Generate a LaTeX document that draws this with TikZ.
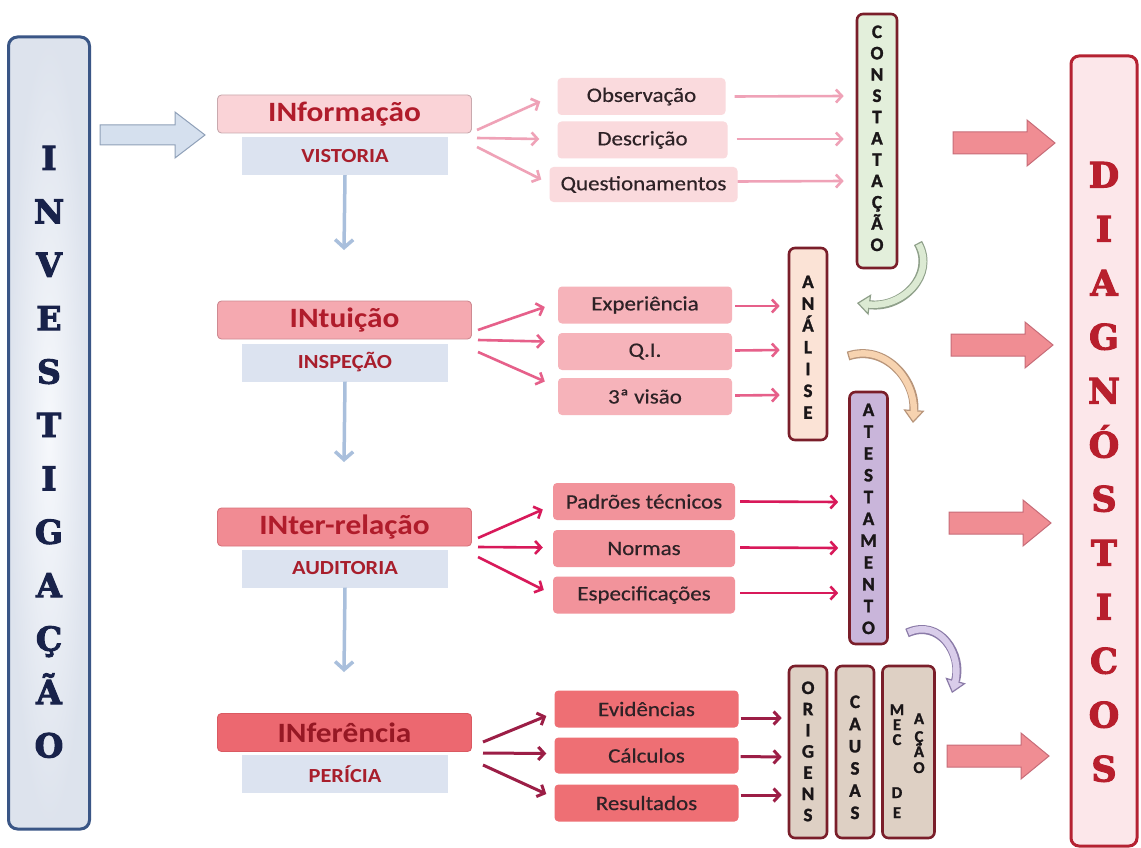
\documentclass[tikz,border=0pt]{standalone}
\usepackage{fontspec}
\setmainfont{Carlito}[FakeStretch=1.12]
\newfontfamily\slab{DejaVu Serif}[BoldFeatures={FakeBold=3}]
\newfontfamily\vfont{Carlito}[BoldFeatures={FakeBold=1.5}]
\newfontfamily\midfont{Carlito}[FakeStretch=1.12,FakeBold=0.5]
\usetikzlibrary{arrows.meta,calc}
\definecolor{invfill}{HTML}{E9EEF7}
\definecolor{invdraw}{HTML}{3A5686}
\definecolor{invtext}{HTML}{18224A}
\definecolor{bafill}{HTML}{D5E0EE}
\definecolor{badraw}{HTML}{8FA0B8}
\definecolor{h1}{HTML}{FAD3D7}
\definecolor{h2}{HTML}{F5A9B0}
\definecolor{h3}{HTML}{F18B93}
\definecolor{h4}{HTML}{EC6870}
\definecolor{hd1}{HTML}{C9A9AE}
\definecolor{hd2}{HTML}{CF8A92}
\definecolor{hd3}{HTML}{D8737B}
\definecolor{hd4}{HTML}{DA5A62}
\definecolor{hred}{HTML}{B01C2B}
\definecolor{subfill}{HTML}{DCE3F0}
\definecolor{subred}{HTML}{A81E2C}
\definecolor{downblue}{HTML}{A9BFDC}
\definecolor{m1}{HTML}{FADADD}
\definecolor{m2}{HTML}{F6B3BA}
\definecolor{m3}{HTML}{F2939B}
\definecolor{m4}{HTML}{EE6F74}
\definecolor{a1}{HTML}{EFA2B7}
\definecolor{a2}{HTML}{E6608A}
\definecolor{a3}{HTML}{D8195A}
\definecolor{a4}{HTML}{9C1E46}
\definecolor{midtext}{HTML}{2E2226}
\definecolor{vborder}{HTML}{7A1E2A}
\definecolor{vgreen}{HTML}{E3EFDB}
\definecolor{vpeach}{HTML}{FBE3D6}
\definecolor{vlav}{HTML}{C9B5DA}
\definecolor{vtaupe}{HTML}{DED0C4}
\definecolor{vtext}{HTML}{1A1618}
\definecolor{dfill}{HTML}{FCE7EA}
\definecolor{ddraw}{HTML}{B52232}
\definecolor{dtext}{HTML}{B81F2D}
\definecolor{pafill}{HTML}{F08D93}
\definecolor{padraw}{HTML}{C76C78}
\definecolor{cgfill}{HTML}{DCEAD3}
\definecolor{cgdraw}{HTML}{8FA08A}
\definecolor{cofill}{HTML}{F7D3B0}
\definecolor{codraw}{HTML}{B8957A}
\definecolor{cpfill}{HTML}{D9CDEA}
\definecolor{cpdraw}{HTML}{8B7BA8}
\begin{document}
\begin{tikzpicture}[x=1pt,y=-1pt,
  headbox/.style={rounded corners=4pt, minimum width=254pt, minimum height=38pt, inner sep=0pt,
     line width=0.9pt, font=\fontsize{28}{30}\selectfont\bfseries, text=hred},
  subbox/.style={minimum width=206pt, minimum height=38pt, inner sep=0pt, fill=subfill,
     font=\fontsize{20}{22}\selectfont\bfseries, text=subred},
  midbox/.style={rounded corners=4pt, minimum height=37pt, inner sep=0pt,
     font=\midfont\fontsize{20.5}{22}\selectfont, text=midtext},
  vbox/.style={draw=vborder, line width=2.6pt, rounded corners=6pt, inner sep=0pt, minimum width=38pt},
  vl/.style={font=\vfont\bfseries\fontsize{19}{19}\selectfont, text=vtext, anchor=base, inner sep=0pt},
  vls/.style={font=\vfont\bfseries\fontsize{16.5}{17}\selectfont, text=vtext, anchor=base, inner sep=0pt},
  bigl/.style={font=\slab\bfseries\fontsize{33}{33}\selectfont, anchor=base, inner sep=0pt},
  downarr/.style={draw=downblue, line width=3.5pt, -{Straight Barb[length=8pt,width=18pt]}},
  fan/.style={line width=2.6pt, -{Straight Barb[length=6pt,width=13pt]}},
  bigarrow/.pic={\path[pic actions] (0,-11) -- (74,-11) -- (74,-23) -- (102,0) -- (74,23) -- (74,11) -- (0,11) -- cycle;}
]
\useasboundingbox (0,0) rectangle (1141,848);
\fill[white] (0,0) rectangle (1141,848);

% ---------- INVESTIGACAO ----------
\node[draw=invdraw, line width=3pt, inner color=white!60!invfill, outer color=invfill!80!invdraw!60!white, rounded corners=9pt, minimum width=81pt, minimum height=792pt, inner sep=0pt] (inv) at (49,433) {};
\foreach \l [count=\i from 0] in {I,N,V,E,S,T,I,G,A,Ç,Ã,O}
  \node[bigl, text=invtext, name=invl\i] at (49, 158+\i*53.4+12) {\l};

% blue block arrow
\path[fill=bafill, draw=badraw, line width=1pt] (100,125) -- (175,125) -- (175,112) -- (205,135) -- (175,158) -- (175,145) -- (100,145) -- cycle;

% ---------- left column ----------
\node[headbox, fill=h1, draw=hd1] (info) at (344.5,114) {INformação};
\node[subbox] (vist) at (345,156) {VISTORIA};
\node[headbox, fill=h2, draw=hd2] (intu) at (344.5,320) {INtuição};
\node[subbox] (insp) at (345,362.5) {INSPEÇÃO};
\node[headbox, fill=h3, draw=hd3] (inter) at (344.5,527) {INter-relação};
\node[subbox] (audi) at (345,568.5) {AUDITORIA};
\node[headbox, fill=h4, draw=hd4, text=hred!85!black] (infe) at (344.5,732.5) {INferência};
\node[subbox] (peri) at (345,774) {PERÍCIA};

\coordinate (d1) at (344,250);
\coordinate (d2) at (344,462);
\coordinate (d3) at (344,672);
\draw[downarr] (vist.south) -- (d1);
\draw[downarr] (insp.south) -- (d2);
\draw[downarr] (audi.south) -- (d3);

% ---------- middle boxes ----------
\node[midbox, fill=m1, minimum width=168pt] (obs) at (641.5,96.5) {Observação};
\node[midbox, fill=m1, minimum width=170pt] (desc) at (642.5,140) {Descrição};
\node[midbox, fill=m1, minimum width=188pt, minimum height=35pt] (ques) at (643.5,184.5) {Questionamentos};

\node[midbox, fill=m2, minimum width=174pt] (expe) at (645,305) {Experiência};
\node[midbox, fill=m2, minimum width=174pt] (qi) at (645,351.5) {Q.I.};
\node[midbox, fill=m2, minimum width=174pt] (visao) at (645,396.5) {3ª visão};

\node[midbox, fill=m3, minimum width=182pt] (padr) at (644,501.5) {Padrões técnicos};
\node[midbox, fill=m3, minimum width=182pt] (norm) at (644,548.5) {Normas};
\node[midbox, fill=m3, minimum width=182pt] (espe) at (644,595) {Especificações};

\node[midbox, fill=m4, minimum width=184pt] (evid) at (646.5,709) {Evidências};
\node[midbox, fill=m4, minimum width=184pt, minimum height=36pt] (calc) at (646.5,755.5) {Cálculos};
\node[midbox, fill=m4, minimum width=184pt] (resu) at (646.5,803) {Resultados};

% ---------- vertical boxes ----------
\node[vbox, fill=vgreen, minimum width=40pt, minimum height=254pt] (cons) at (877,141) {};
\foreach \l [count=\i from 0] in {C,O,N,S,T,A,T,A,Ç,Ã,O}
  \node[vl, name=consl\i] at (877, 32+\i*21.3+6) {\l};

\node[vbox, fill=vpeach, minimum height=192pt] (anal) at (808,344) {};
\foreach \l [count=\i from 0] in {A,N,Á,L,I,S,E}
  \node[vl, name=anall\i] at (808, 282+\i*21.8+6) {\l};

\node[vbox, fill=vlav, minimum height=252pt] (ates) at (868.5,518) {};
\foreach \l [count=\i from 0] in {A,T,E,S,T,A,M,E,N,T,O}
  \node[vl, name=atesl\i] at (868.5, 410+\i*21.8+6) {\l};

\node[vbox, fill=vtaupe, minimum height=172pt] (orig) at (808,752) {};
\foreach \l [count=\i from 0] in {O,R,I,G,E,N,S}
  \node[vl, name=origl\i] at (808, 688+\i*21.2+6) {\l};

\node[vbox, fill=vtaupe, minimum height=172pt] (caus) at (855,752) {};
\foreach \l [count=\i from 0] in {C,A,U,S,A,S}
  \node[vl, name=causl\i] at (855, 702+\i*22.2+6) {\l};

\node[vbox, fill=vtaupe, minimum width=52pt, minimum height=172pt] (mec) at (908.5,752) {};
\node[vls, name=mec1] at (897,715) {M};
\node[vls, name=mec2] at (897,730) {E};
\node[vls, name=mec3] at (897,745) {C};
\node[vls, name=mec4] at (897,798) {D};
\node[vls, name=mec5] at (897,818) {E};
\node[vls, name=aca1] at (919,724) {A};
\node[vls, name=aca2] at (919,742) {Ç};
\node[vls, name=aca3] at (919,757) {Ã};
\node[vls, name=aca4] at (919,773) {O};

% ---------- fan arrows ----------
\coordinate (f1a) at (477,130); \coordinate (f1b) at (477,138); \coordinate (f1c) at (477,147);
\draw[fan, a1] (f1a) -- ($(obs.west)+(-17,5)$);
\draw[fan, a1] (f1b) -- ($(desc.west)+(-18,-1)$);
\draw[fan, a1] (f1c) -- ($(ques.west)+(-8,-5)$);
\draw[fan, a1] ($(obs.east)+(9,0)$) -- ($(cons.west)+(-12,-45)$);
\draw[fan, a1] ($(desc.east)+(9,-1)$) -- ($(cons.west)+(-12,-2)$);
\draw[fan, a1] ($(ques.east)+(0,-3)$) -- ($(cons.west)+(-12,40)$);

\coordinate (f2a) at (478,330); \coordinate (f2b) at (478,340); \coordinate (f2c) at (478,352);
\draw[fan, a2] (f2a) -- ($(expe.west)+(-13,2)$);
\draw[fan, a2] (f2b) -- ($(qi.west)+(-13,-10)$);
\draw[fan, a2] (f2c) -- ($(visao.west)+(-13,-15)$);
\draw[fan, a2] ($(expe.east)+(3,1)$) -- ($(anal.west)+(-8,-38)$);
\draw[fan, a2] ($(qi.east)+(3,-1)$) -- ($(anal.west)+(-8,6)$);
\draw[fan, a2] ($(visao.east)+(3,-1)$) -- ($(anal.west)+(-8,51)$);

\coordinate (f3a) at (478,538); \coordinate (f3b) at (478,547); \coordinate (f3c) at (478,557);
\draw[fan, a3] (f3a) -- ($(padr.west)+(-10,8)$);
\draw[fan, a3] (f3b) -- ($(norm.west)+(-10,-1)$);
\draw[fan, a3] (f3c) -- ($(espe.west)+(-9,-5)$);
\draw[fan, a3] ($(padr.east)+(5,0)$) -- ($(ates.west)+(-10,-16)$);
\draw[fan, a3] ($(norm.east)+(5,-1)$) -- ($(ates.west)+(-10,30)$);
\draw[fan, a3] ($(espe.east)+(5,-2)$) -- ($(ates.west)+(-10,75)$);

\coordinate (f4a) at (483,742); \coordinate (f4b) at (483,753); \coordinate (f4c) at (483,765);
\draw[fan, a4, line width=3pt] (f4a) -- ($(evid.west)+(-8,7)$);
\draw[fan, a4, line width=3pt] (f4b) -- ($(calc.west)+(-8,-2)$);
\draw[fan, a4, line width=3pt] (f4c) -- ($(resu.west)+(-8,-9)$);
\draw[fan, a4, line width=3pt] ($(evid.east)+(2,9)$) -- ($(orig.west)+(-6,-34)$);
\draw[fan, a4, line width=3pt] ($(calc.east)+(2,1)$) -- ($(orig.west)+(-6,5)$);
\draw[fan, a4, line width=3pt] ($(resu.east)+(2,-8)$) -- ($(orig.west)+(-6,43)$);

% ---------- curved block arrows ----------
\coordinate (cg1) at (918,243); \coordinate (cg2) at (857,303);
\draw[line width=9pt, cgdraw, -{Triangle[length=13pt,width=21pt,fill=cgfill,line width=1.2pt]}] (cg1) .. controls (936,275) and (902,309) .. (cg2);
\draw[line width=6.4pt, cgfill, shorten >=10pt, shorten <=1.3pt] (cg1) .. controls (936,275) and (902,309) .. (cg2);

\coordinate (co1) at (848,356); \coordinate (co2) at (913,423);
\draw[line width=9pt, codraw, -{Triangle[length=13pt,width=21pt,fill=cofill,line width=1.2pt]}] (co1) .. controls (885,344) and (916,380) .. (co2);
\draw[line width=6.4pt, cofill, shorten >=10pt, shorten <=1.3pt] (co1) .. controls (885,344) and (916,380) .. (co2);

\coordinate (cp1) at (907,633); \coordinate (cp2) at (952,693);
\draw[line width=9pt, cpdraw, -{Triangle[length=13pt,width=21pt,fill=cpfill,line width=1.2pt]}] (cp1) .. controls (940,618) and (963,655) .. (cp2);
\draw[line width=6.4pt, cpfill, shorten >=10pt, shorten <=1.3pt] (cp1) .. controls (940,618) and (963,655) .. (cp2);

% ---------- big arrows ----------
\pic[fill=pafill, draw=padraw, line width=1pt] at (953,143) {bigarrow};
\pic[fill=pafill, draw=padraw, line width=1pt] at (951,345) {bigarrow};
\pic[fill=pafill, draw=padraw, line width=1pt] at (949,523) {bigarrow};
\pic[fill=pafill, draw=padraw, line width=1pt] at (947,756) {bigarrow};

% ---------- DIAGNOSTICOS ----------
\node[draw=ddraw, line width=3pt, fill=dfill, rounded corners=8pt, minimum width=66pt, minimum height=790pt, inner sep=0pt] (diag) at (1104,451) {};
\foreach \l [count=\i from 0] in {D,I,A,G,N,Ó,S,T,I,C,O,S}
  \node[bigl, text=dtext, font=\slab\bfseries\fontsize{35}{35}\selectfont, name=diagl\i] at (1104, 175+\i*54+12.5) {\l};
\end{tikzpicture}
\end{document}
